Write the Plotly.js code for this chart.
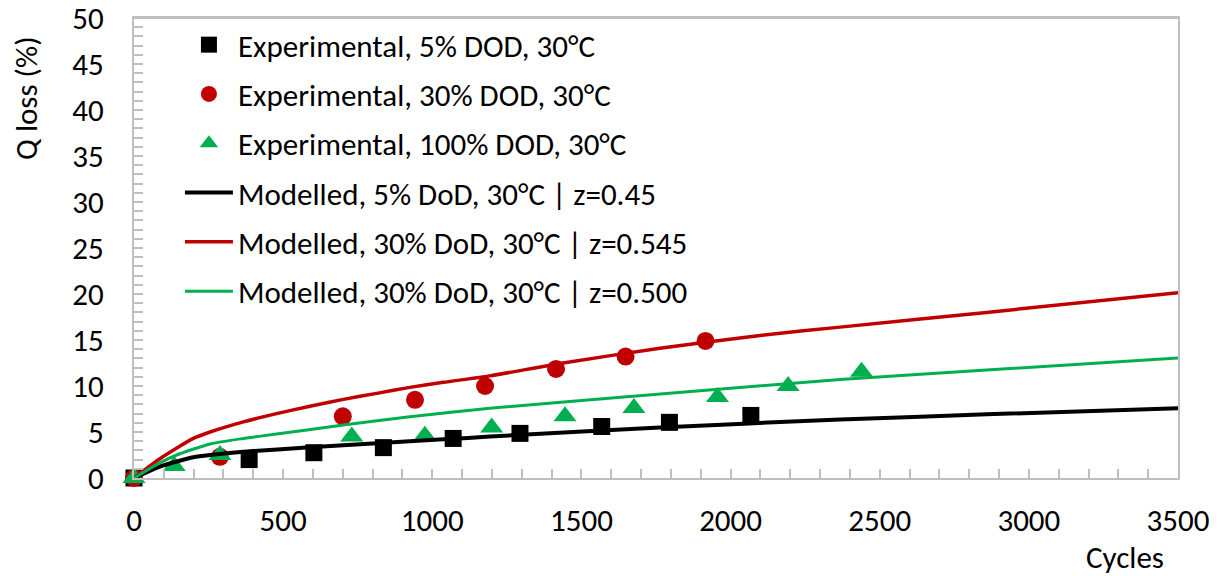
<!DOCTYPE html>
<html>
<head>
<meta charset="utf-8">
<script src="https://cdn.plot.ly/plotly-3.0.1.min.js"></script>
<style>html,body{margin:0;padding:0;background:#fff;}#chart{width:1222px;height:576px;}</style>
</head>
<body>
<div id="chart"></div>
<script>
// Experimental data
var expCycles5 = [0, 386, 603, 836, 1070, 1294, 1568, 1795, 2068];
var expQ5 = [0, 2.0, 2.75, 3.3, 4.3, 4.85, 5.6, 6.05, 6.8];

var expCycles30 = [0, 288, 700, 942, 1177, 1415, 1648, 1916];
var expQ30 = [0, 2.3, 6.7, 8.5, 10.0, 11.85, 13.2, 14.9];

var expCycles100 = [0, 135, 288, 730, 975, 1199, 1445, 1676, 1956, 2193, 2439];
var expQ100 = [0, 1.3, 2.5, 4.5, 4.6, 5.5, 6.7, 7.6, 8.8, 10.0, 11.55];

// Modelled curves
var modCycles5 = [0, 87, 199, 255, 367, 590, 814, 1037, 1193, 1763, 2367, 2858, 3500];
var modQ5 = [0, 1.25, 2.25, 2.5, 2.86, 3.33, 3.77, 4.2, 4.5, 5.5, 6.35, 6.92, 7.57];

var modCycles30 = [0, 87, 199, 255, 367, 478, 590, 702, 814, 925, 1037, 1193, 1428, 1763, 2099, 2367, 2858, 3500];
var modQ30 = [0, 2.1, 4.3, 5.0, 6.1, 7.0, 7.8, 8.55, 9.2, 9.85, 10.4, 11.1, 12.45, 14.1, 15.5, 16.4, 18.0, 20.15];

var modCycles100 = [0, 87, 143, 255, 367, 478, 702, 925, 1193, 1652, 2367, 2858, 3500];
var modQ100 = [0, 1.65, 2.5, 3.7, 4.3, 4.78, 5.76, 6.67, 7.57, 8.84, 10.7, 11.74, 13.04];

var yTicks = [0, 5, 10, 15, 20, 25, 30, 35, 40, 45, 50];
var xTicks = [0, 500, 1000, 1500, 2000, 2500, 3000, 3500];

var names = [
  'Experimental, 5% DOD, 30°C',
  'Experimental, 30% DOD, 30°C',
  'Experimental, 100% DOD, 30°C',
  'Modelled, 5% DoD, 30°C | z=0.45',
  'Modelled, 30% DoD, 30°C | z=0.545',
  'Modelled, 30% DoD, 30°C | z=0.500'
];

var BLACK = '#000000', RED = '#C00000', GREEN = '#00B050';
var FONT = 'Carlito, Lato, sans-serif';
var FS = 31;

var traces = [
  {x: expCycles5, y: expQ5, name: names[0], mode: 'markers', type: 'scatter', legendgroup: 'g1', cliponaxis: false,
   marker: {symbol: 'square', size: 17, color: BLACK}},
  {x: expCycles30, y: expQ30, name: names[1], mode: 'markers', type: 'scatter', legendgroup: 'g2', cliponaxis: false,
   marker: {symbol: 'circle', size: 18, color: RED}},
  {x: expCycles100, y: expQ100, name: names[2], mode: 'markers', type: 'scatter', legendgroup: 'g3', cliponaxis: false,
   marker: {symbol: 'triangle-up', size: 20, color: GREEN}},
  {x: modCycles5, y: modQ5, name: names[3], mode: 'lines', type: 'scatter', legendgroup: 'g4',
   line: {color: BLACK, width: 4, shape: 'spline', smoothing: 0.6}},
  {x: modCycles30, y: modQ30, name: names[4], mode: 'lines', type: 'scatter', legendgroup: 'g5',
   line: {color: RED, width: 3.5, shape: 'spline', smoothing: 0.6}},
  {x: modCycles100, y: modQ100, name: names[5], mode: 'lines', type: 'scatter', legendgroup: 'g6',
   line: {color: GREEN, width: 3, shape: 'spline', smoothing: 0.6}}
];

var GREY = '#BFBFBF';
var layout = {
  width: 1222, height: 576,
  margin: {l: 134, r: 44, t: 18, b: 98},
  paper_bgcolor: '#ffffff', plot_bgcolor: '#ffffff',
  font: {family: FONT, size: FS, color: '#000000'},
  showlegend: true,
  legend: {
    x: 0.044, y: 1.0, xanchor: 'left', yanchor: 'top',
    traceorder: 'grouped', tracegroupgap: 6,
    font: {family: FONT, size: FS, color: '#000000'},
    bgcolor: 'rgba(0,0,0,0)', itemwidth: 48
  },
  xaxis: {
    range: [0, 3500], tickmode: 'array', tickvals: xTicks, ticktext: xTicks.map(String),
    automargin: false, ticklabeloverflow: 'allow',
    showgrid: false, zeroline: false,
    showline: true, linecolor: GREY, linewidth: 2, mirror: true,
    ticks: 'inside', ticklen: 9, tickwidth: 2, tickcolor: GREY,
    minor: {dtick: 100, ticks: 'inside', ticklen: 9, tickwidth: 2, tickcolor: GREY, showgrid: false},
    tickfont: {family: FONT, size: FS, color: '#000000'},
    ticklabelstandoff: 14
  },
  yaxis: {
    range: [0, 50], tickmode: 'array', tickvals: yTicks, ticktext: yTicks.map(String),
    automargin: false, ticklabeloverflow: 'allow',
    showgrid: false, zeroline: false,
    showline: true, linecolor: GREY, linewidth: 2, mirror: true,
    ticks: 'inside', ticklen: 9, tickwidth: 2, tickcolor: GREY,
    minor: {dtick: 1, ticks: 'inside', ticklen: 9, tickwidth: 2, tickcolor: GREY, showgrid: false},
    tickfont: {family: FONT, size: FS, color: '#000000'},
    ticklabelstandoff: 22
  },
  shapes: [
    {type: 'line', xref: 'paper', yref: 'paper', x0: 0, x1: 1, y0: 1, y1: 1,
     line: {color: GREY, width: 2}, layer: 'above'}
  ],
  annotations: [
    {text: 'Q loss (%)', xref: 'paper', yref: 'paper', x: -0.1035, y: 0.826,
     textangle: -90, showarrow: false, xanchor: 'center', yanchor: 'middle',
     font: {family: FONT, size: FS, color: '#000000'}},
    {text: 'Cycles', xref: 'paper', yref: 'paper', x: 0.949, y: -0.1717,
     showarrow: false, xanchor: 'center', yanchor: 'middle',
     font: {family: FONT, size: FS, color: '#000000'}}
  ]
};

Plotly.newPlot('chart', traces, layout, {displayModeBar: false, staticPlot: true});
</script>
</body>
</html>
